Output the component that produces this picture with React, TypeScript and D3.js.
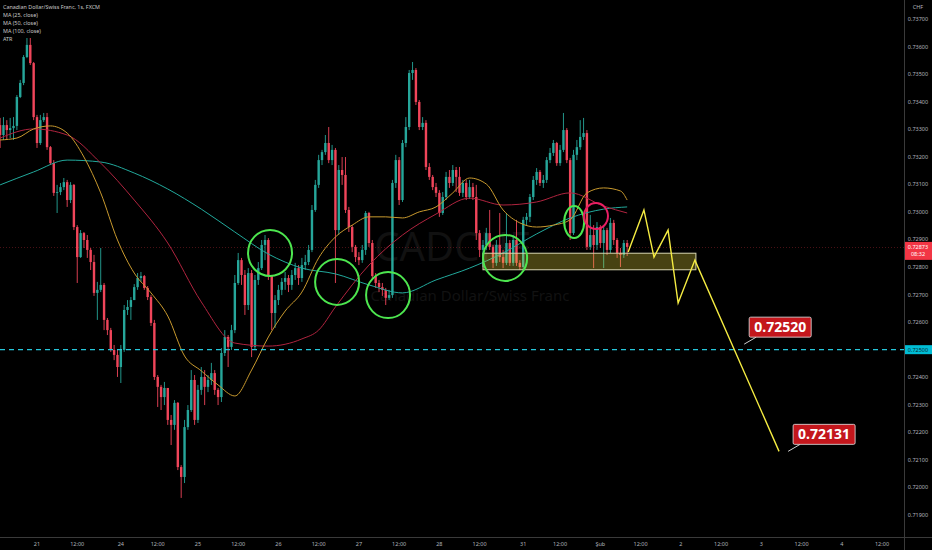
import React, { useEffect, useRef } from 'react';
import * as d3 from 'd3';

// CADCHF hourly bars. Bar index = trading hours since 21 Jan 00:00 (weekends skipped)
const firstBarIndex = -11;
const firstOpen = 0.73315;

const closes = [
  0.73279, 0.73315, 0.73297, 0.73304, 0.73312, 0.73417, 0.73468, 0.73562, 0.73606, 0.73540,
  0.73344, 0.73250, 0.73333, 0.73344, 0.73235, 0.73177, 0.73069, 0.73072, 0.73090, 0.73108,
  0.73043, 0.73098, 0.72945, 0.72836, 0.72923, 0.72898, 0.72862, 0.72818, 0.72706, 0.72717,
  0.72735, 0.72608, 0.72571, 0.72499, 0.72481, 0.72437, 0.72499, 0.72644, 0.72655, 0.72680,
  0.72727, 0.72760, 0.72767, 0.72724, 0.72691, 0.72597, 0.72401, 0.72365, 0.72328, 0.72361,
  0.72245, 0.72227, 0.72307, 0.72074, 0.72038, 0.72219, 0.72281, 0.72390, 0.72245, 0.72354,
  0.72401, 0.72365, 0.72390, 0.72415, 0.72354, 0.72328, 0.72488, 0.72546, 0.72510, 0.72571,
  0.72742, 0.72825, 0.72771, 0.72662, 0.72778, 0.72510, 0.72753, 0.72796, 0.72880, 0.72898,
  0.72767, 0.72633, 0.72680, 0.72717, 0.72746, 0.72760, 0.72735, 0.72771, 0.72796, 0.72760,
  0.72807, 0.72818, 0.72862, 0.73007, 0.73098, 0.73188, 0.73217, 0.73250, 0.73188, 0.73225,
  0.72934, 0.73152, 0.73134, 0.73007, 0.72945, 0.72873, 0.72836, 0.72825, 0.72862, 0.72996,
  0.72887, 0.72767, 0.72742, 0.72727, 0.72717, 0.72688, 0.72698, 0.73105, 0.73188, 0.73043,
  0.73250, 0.73308, 0.73504, 0.73515, 0.73399, 0.73308, 0.73323, 0.73163, 0.73127, 0.73090,
  0.73069, 0.72996, 0.73054, 0.73127, 0.73105, 0.73152, 0.73127, 0.73069, 0.73105, 0.73054,
  0.73090, 0.73054, 0.72923, 0.72862, 0.72880, 0.72923, 0.72873, 0.72815, 0.72880, 0.72836,
  0.72815, 0.72887, 0.72815, 0.72898, 0.72815, 0.72800, 0.72971, 0.72982, 0.73054, 0.73116,
  0.73145, 0.73105, 0.73116, 0.73188, 0.73214, 0.73250, 0.73177, 0.73225, 0.73297, 0.73188,
  0.72923, 0.73207, 0.73235, 0.73272, 0.73286, 0.72873, 0.72916, 0.72880, 0.72945, 0.72887,
  0.72934, 0.72862, 0.72960, 0.72898, 0.72851, 0.72844, 0.72887, 0.72873
];

const highs = [
  0.73341, 0.73344, 0.73333, 0.73341, 0.73344, 0.73424, 0.73479, 0.73569, 0.73631, 0.73631,
  0.73544, 0.73352, 0.73352, 0.73359, 0.73359, 0.73239, 0.73188, 0.73098, 0.73105, 0.73123,
  0.73116, 0.73108, 0.73101, 0.72952, 0.72934, 0.72927, 0.72916, 0.72869, 0.72844, 0.72746,
  0.72869, 0.72742, 0.72615, 0.72579, 0.72517, 0.72499, 0.72517, 0.72662, 0.72680, 0.72691,
  0.72738, 0.72778, 0.72782, 0.72771, 0.72731, 0.72698, 0.72608, 0.72408, 0.72372, 0.72383,
  0.72361, 0.72263, 0.72317, 0.72310, 0.72081, 0.72245, 0.72299, 0.72426, 0.72408, 0.72372,
  0.72437, 0.72426, 0.72408, 0.72452, 0.72426, 0.72361, 0.72506, 0.72571, 0.72553, 0.72590,
  0.72771, 0.72851, 0.72833, 0.72789, 0.72796, 0.72789, 0.72771, 0.72818, 0.72898, 0.72916,
  0.72905, 0.72771, 0.72698, 0.72735, 0.72760, 0.72782, 0.72771, 0.72789, 0.72815, 0.72807,
  0.72833, 0.72844, 0.72880, 0.73025, 0.73116, 0.73207, 0.73225, 0.73279, 0.73308, 0.73243,
  0.73232, 0.73170, 0.73199, 0.73199, 0.73018, 0.72952, 0.72880, 0.72854, 0.72880, 0.73003,
  0.73000, 0.72898, 0.72778, 0.72753, 0.72742, 0.72724, 0.72717, 0.73116, 0.73207, 0.73199,
  0.73261, 0.73344, 0.73515, 0.73544, 0.73522, 0.73406, 0.73344, 0.73333, 0.73177, 0.73134,
  0.73105, 0.73079, 0.73072, 0.73145, 0.73152, 0.73170, 0.73163, 0.73163, 0.73116, 0.73116,
  0.73116, 0.73105, 0.73098, 0.72934, 0.72898, 0.72942, 0.73007, 0.72880, 0.72898, 0.72996,
  0.72862, 0.72996, 0.72898, 0.72916, 0.72971, 0.72825, 0.72982, 0.72996, 0.73065, 0.73130,
  0.73159, 0.73152, 0.73134, 0.73199, 0.73232, 0.73261, 0.73254, 0.73243, 0.73359, 0.73304,
  0.73196, 0.73225, 0.73261, 0.73333, 0.73341, 0.73297, 0.72989, 0.72952, 0.72963, 0.72952,
  0.72952, 0.72942, 0.72978, 0.72971, 0.72905, 0.72869, 0.72898, 0.72898
];

const lows = [
  0.73232, 0.73261, 0.73261, 0.73268, 0.73261, 0.73297, 0.73413, 0.73460, 0.73558, 0.73533,
  0.73333, 0.73232, 0.73243, 0.73326, 0.73225, 0.73170, 0.73058, 0.72996, 0.73061, 0.73079,
  0.73018, 0.73032, 0.72934, 0.72742, 0.72833, 0.72869, 0.72833, 0.72789, 0.72695, 0.72608,
  0.72709, 0.72571, 0.72553, 0.72492, 0.72462, 0.72401, 0.72379, 0.72492, 0.72626, 0.72608,
  0.72680, 0.72717, 0.72746, 0.72717, 0.72680, 0.72586, 0.72390, 0.72292, 0.72281, 0.72299,
  0.72227, 0.72154, 0.72209, 0.72063, 0.71962, 0.72016, 0.72209, 0.72274, 0.72227, 0.72234,
  0.72336, 0.72299, 0.72346, 0.72372, 0.72336, 0.72299, 0.72310, 0.72477, 0.72437, 0.72499,
  0.72560, 0.72735, 0.72735, 0.72626, 0.72644, 0.72473, 0.72499, 0.72735, 0.72789, 0.72825,
  0.72753, 0.72571, 0.72579, 0.72662, 0.72698, 0.72717, 0.72709, 0.72717, 0.72753, 0.72735,
  0.72746, 0.72789, 0.72807, 0.72854, 0.73000, 0.73087, 0.73170, 0.73207, 0.73177, 0.73170,
  0.72742, 0.72916, 0.73098, 0.72996, 0.72927, 0.72854, 0.72818, 0.72807, 0.72815, 0.72844,
  0.72873, 0.72753, 0.72724, 0.72709, 0.72695, 0.72662, 0.72680, 0.72688, 0.73087, 0.73025,
  0.73036, 0.73235, 0.73297, 0.73479, 0.73388, 0.73297, 0.73297, 0.73152, 0.73116, 0.73079,
  0.73054, 0.72982, 0.72989, 0.73043, 0.73087, 0.73094, 0.73072, 0.73058, 0.73054, 0.73043,
  0.73047, 0.73043, 0.72898, 0.72836, 0.72800, 0.72862, 0.72862, 0.72796, 0.72804, 0.72818,
  0.72796, 0.72807, 0.72804, 0.72804, 0.72804, 0.72789, 0.72789, 0.72952, 0.72963, 0.73043,
  0.73098, 0.73094, 0.73087, 0.73105, 0.73177, 0.73203, 0.73167, 0.73167, 0.73217, 0.73177,
  0.72898, 0.72916, 0.73188, 0.73225, 0.73261, 0.72862, 0.72862, 0.72796, 0.72862, 0.72869,
  0.72796, 0.72844, 0.72851, 0.72880, 0.72833, 0.72800, 0.72833, 0.72840
];

// moving averages: [bar index, price]
const ma25: [number, number][] = [
  [-11, 0.73261], [-6, 0.73268], [-1, 0.73301], [4, 0.73312], [9, 0.73286], [14, 0.73199],
  [19, 0.73069], [24, 0.72898], [29, 0.72778], [34, 0.72706], [39, 0.72622], [44, 0.72477],
  [49, 0.72423], [54, 0.72372], [59, 0.72332], [64, 0.72426], [69, 0.72546], [74, 0.72640],
  [79, 0.72709], [84, 0.72833], [89, 0.72909], [94, 0.72952], [99, 0.72982], [104, 0.72982],
  [109, 0.72978], [114, 0.73000], [119, 0.73018], [124, 0.73069], [129, 0.73123], [134, 0.73101],
  [139, 0.73007], [144, 0.72960], [149, 0.72945], [154, 0.72952], [159, 0.72971], [164, 0.73069],
  [169, 0.73087], [174, 0.73076], [176, 0.73043]
];
const ma50: [number, number][] = [
  [-11, 0.73268], [-1, 0.73301], [9, 0.73279], [19, 0.73177], [29, 0.73043], [39, 0.72887],
  [49, 0.72673], [59, 0.72524], [69, 0.72513], [79, 0.72539], [84, 0.72571], [89, 0.72655],
  [99, 0.72807], [109, 0.72916], [119, 0.72992], [129, 0.73050], [139, 0.73025], [149, 0.73036],
  [159, 0.73069], [169, 0.73021], [176, 0.72996]
];
const ma100: [number, number][] = [
  [-11, 0.73098], [-1, 0.73145], [9, 0.73188], [19, 0.73181], [29, 0.73141], [39, 0.73083],
  [49, 0.73010], [59, 0.72927], [69, 0.72847], [79, 0.72796], [89, 0.72775], [99, 0.72735],
  [109, 0.72706], [119, 0.72753], [129, 0.72796], [139, 0.72851], [149, 0.72920], [159, 0.72978],
  [169, 0.73010], [176, 0.73018]
];

const timeTickBars = [0, 12, 25, 36, 48, 60, 72, 84, 96, 108, 120, 132, 145, 156, 168, 180, 192, 204, 216, 228, 240, 252];
const timeTickLabels = ['21', '12:00', '24', '12:00', '25', '12:00', '26', '12:00', '27', '12:00', '28', '12:00', '31', '12:00', 'Şub', '12:00', '2', '12:00', '3', '12:00', '4', '12:00'];

const legendLines = ['Canadian Dollar/Swiss Franc, 1s, FXCM', 'MA (25, close)', 'MA (50, close)', 'MA (100, close)', 'ATR'];

const lastPrice = 0.72873;
const countdown = '08:32';
const alertPrice = 0.725;

// drawings: [bar index, price]
const zoneBars = [133, 196.5];
const zonePrices = [0.7285, 0.7279];
const forecastPath: [number, number][] = [
  [176.3, 0.72854], [181, 0.73007], [184, 0.72836], [188.2, 0.72934],
  [191.2, 0.72669], [196.2, 0.72825], [221.3, 0.72131]
];
const targetBars = [210.9, 224];
const targetPrices = [0.7252, 0.72131];
const greenRings: [number, number][] = [[69.5, 0.72851], [89.5, 0.72746], [104.7, 0.72698], [139.6, 0.72833]];
const smallRing: [number, number] = [160.2, 0.72963];
const pinkRing: [number, number] = [166.7, 0.72985];

const W = 932;
const H = 550;
const plotRight = 904;
const plotBottom = 537;
const font = '"Noto Sans", "DejaVu Sans", sans-serif';

const App: React.FC = () => {
  const svgRef = useRef<SVGSVGElement>(null);

  useEffect(() => {
    document.body.style.margin = '0';
    document.body.style.background = '#000';
    if (!svgRef.current) return;
    const svg = d3.select(svgRef.current);
    svg.selectAll('*').remove();

    const x = d3.scaleLinear().domain([0, 252]).range([37, 882]);
    const y = d3.scaleLinear().domain([0.719, 0.737]).range([515, 19]);

    svg.append('rect').attr('width', W).attr('height', H).attr('fill', '#000');

    svg.append('defs').append('clipPath').attr('id', 'plot-clip')
      .append('rect').attr('width', plotRight).attr('height', plotBottom);

    const plot = svg.append('g').attr('clip-path', 'url(#plot-clip)');

    // watermark
    plot.append('text')
      .attr('x', 452).attr('y', 261)
      .attr('text-anchor', 'middle')
      .style('font-family', font).style('font-size', '40px')
      .attr('fill', '#111111')
      .text('CADCHF');
    plot.append('text')
      .attr('x', 470).attr('y', 301)
      .attr('text-anchor', 'middle')
      .style('font-family', font).style('font-size', '15px')
      .attr('fill', '#121212')
      .text('Canadian Dollar/Swiss Franc');

    // last price line
    plot.append('line')
      .attr('x1', 0).attr('x2', plotRight)
      .attr('y1', Math.round(y(lastPrice)) + 0.5).attr('y2', Math.round(y(lastPrice)) + 0.5)
      .attr('stroke', '#f23645').attr('stroke-opacity', 0.3)
      .attr('stroke-dasharray', '1,2');

    // candles
    const bars = closes.map((c, k) => {
      const o = k === 0 ? firstOpen : closes[k - 1];
      return {
        i: firstBarIndex + k,
        o, c,
        h: Math.max(highs[k], o, c),
        l: Math.min(lows[k], o, c)
      };
    });
    const up = '#26a69a';
    const down = '#f0455a';
    const candle = plot.append('g');
    candle.selectAll('line.wick').data(bars).enter().append('line')
      .attr('class', 'wick')
      .attr('x1', d => x(d.i)).attr('x2', d => x(d.i))
      .attr('y1', d => y(d.h)).attr('y2', d => y(d.l))
      .attr('stroke', d => (d.c >= d.o ? up : down))
      .attr('stroke-width', 0.9);
    candle.selectAll('rect.body').data(bars).enter().append('rect')
      .attr('class', 'body')
      .attr('x', d => x(d.i) - 1.2)
      .attr('width', 2.4)
      .attr('y', d => y(Math.max(d.o, d.c)))
      .attr('height', d => Math.max(0.8, Math.abs(y(d.o) - y(d.c))))
      .attr('fill', d => (d.c >= d.o ? up : down));

    // moving averages
    const maLine = d3.line<[number, number]>()
      .x(d => x(d[0]))
      .y(d => y(d[1]))
      .curve(d3.curveMonotoneX);
    plot.append('path').datum(ma100).attr('d', maLine)
      .attr('fill', 'none').attr('stroke', '#22a99c').attr('stroke-width', 1);
    plot.append('path').datum(ma50).attr('d', maLine)
      .attr('fill', 'none').attr('stroke', '#b0243f').attr('stroke-width', 1);
    plot.append('path').datum(ma25).attr('d', maLine)
      .attr('fill', 'none').attr('stroke', '#c99a2e').attr('stroke-width', 1);

    // alert line
    plot.append('line')
      .attr('x1', 0).attr('x2', plotRight)
      .attr('y1', y(alertPrice)).attr('y2', y(alertPrice))
      .attr('stroke', '#26c6da').attr('stroke-width', 1.2)
      .attr('stroke-dasharray', '5,4');

    // support zone
    plot.append('rect')
      .attr('x', x(zoneBars[0]))
      .attr('y', y(zonePrices[0]))
      .attr('width', x(zoneBars[1]) - x(zoneBars[0]))
      .attr('height', y(zonePrices[1]) - y(zonePrices[0]))
      .attr('fill', 'rgba(235, 220, 60, 0.3)')
      .attr('stroke', '#d8d6b0').attr('stroke-width', 1);

    // rings
    greenRings.forEach(([b, p]) => {
      plot.append('ellipse')
        .attr('cx', x(b)).attr('cy', y(p))
        .attr('rx', 22).attr('ry', 23)
        .attr('fill', 'none').attr('stroke', '#4de64f').attr('stroke-width', 2);
    });
    plot.append('ellipse')
      .attr('cx', x(smallRing[0])).attr('cy', y(smallRing[1]))
      .attr('rx', 10).attr('ry', 16)
      .attr('fill', 'none').attr('stroke', '#4de64f').attr('stroke-width', 2);
    plot.append('ellipse')
      .attr('cx', x(pinkRing[0])).attr('cy', y(pinkRing[1]))
      .attr('rx', 12).attr('ry', 13)
      .attr('fill', 'none').attr('stroke', '#e91e63').attr('stroke-width', 2);

    // forecast path
    plot.append('path')
      .datum(forecastPath)
      .attr('d', d3.line<[number, number]>().x(d => x(d[0])).y(d => y(d[1])))
      .attr('fill', 'none').attr('stroke', '#f5ec42').attr('stroke-width', 1.4);

    // target notes
    targetBars.forEach((b, n) => {
      const ax = x(b);
      const ay = y(targetPrices[n]);
      const bx = ax + 5;
      const by = ay - 27;
      const g = plot.append('g');
      g.append('line')
        .attr('x1', ax).attr('y1', ay).attr('x2', bx + 7).attr('y2', by + 20)
        .attr('stroke', '#d0d0d0').attr('stroke-width', 1);
      g.append('rect')
        .attr('x', bx).attr('y', by).attr('width', 62).attr('height', 20)
        .attr('rx', 1.5)
        .attr('fill', '#c4161c').attr('stroke', '#e8e8e8').attr('stroke-width', 0.8);
      g.append('text')
        .attr('x', bx + 31).attr('y', by + 15)
        .attr('text-anchor', 'middle')
        .style('font-family', font).style('font-size', '14px').style('font-weight', 'bold')
        .attr('fill', '#fff')
        .text(d3.format('.5f')(targetPrices[n]));
    });

    // legend
    svg.append('g').selectAll('text').data(legendLines).enter().append('text')
      .attr('x', 3).attr('y', (_, n) => 9 + n * 8)
      .style('font-family', font).style('font-size', '5.4px')
      .attr('fill', '#c8c8c8')
      .text(d => d);

    // axes frame
    svg.append('line')
      .attr('x1', plotRight + 0.5).attr('x2', plotRight + 0.5)
      .attr('y1', 0).attr('y2', H)
      .attr('stroke', '#3a3a3a');
    svg.append('line')
      .attr('x1', 0).attr('x2', W)
      .attr('y1', plotBottom + 0.5).attr('y2', plotBottom + 0.5)
      .attr('stroke', '#3a3a3a');

    // price axis
    const priceTicks = y.ticks(18);
    svg.append('g').selectAll('text').data(priceTicks).enter().append('text')
      .attr('x', 918).attr('y', d => y(d) + 2)
      .attr('text-anchor', 'middle')
      .style('font-family', font).style('font-size', '5.5px')
      .attr('fill', '#b2b5be')
      .text(d => d3.format('.5f')(d));

    svg.append('text')
      .attr('x', 918).attr('y', 8.5)
      .attr('text-anchor', 'middle')
      .style('font-family', font).style('font-size', '5.5px')
      .attr('fill', '#b2b5be')
      .text('CHF');

    // alert label
    svg.append('rect')
      .attr('x', plotRight + 1).attr('y', y(alertPrice) - 4.5)
      .attr('width', W - plotRight - 1).attr('height', 9)
      .attr('fill', '#00bcd4');
    svg.append('text')
      .attr('x', 918).attr('y', y(alertPrice) + 2)
      .attr('text-anchor', 'middle')
      .style('font-family', font).style('font-size', '5.5px')
      .attr('fill', '#0a2a30')
      .text(d3.format('.5f')(alertPrice));

    // last price label
    const ly = y(lastPrice);
    svg.append('rect')
      .attr('x', plotRight + 1).attr('y', ly - 5)
      .attr('width', W - plotRight - 1).attr('height', 18)
      .attr('fill', '#f23645');
    svg.append('text')
      .attr('x', 918).attr('y', ly + 2)
      .attr('text-anchor', 'middle')
      .style('font-family', font).style('font-size', '5.5px')
      .attr('fill', '#fff')
      .text(d3.format('.5f')(lastPrice));
    svg.append('text')
      .attr('x', 918).attr('y', ly + 9.5)
      .attr('text-anchor', 'middle')
      .style('font-family', font).style('font-size', '5.5px')
      .attr('fill', '#fff')
      .text(countdown);

    // time axis
    svg.append('g').selectAll('text').data(timeTickBars).enter().append('text')
      .attr('x', d => x(d)).attr('y', 545.5)
      .attr('text-anchor', 'middle')
      .style('font-family', font).style('font-size', '5.5px')
      .attr('fill', '#b2b5be')
      .text((_, n) => timeTickLabels[n]);
  }, []);

  return (
    <div style={{ position: 'fixed', left: 0, top: 0, width: W, height: H, background: '#000' }}>
      <svg ref={svgRef} width={W} height={H} style={{ display: 'block' }} />
    </div>
  );
};

export default App;
